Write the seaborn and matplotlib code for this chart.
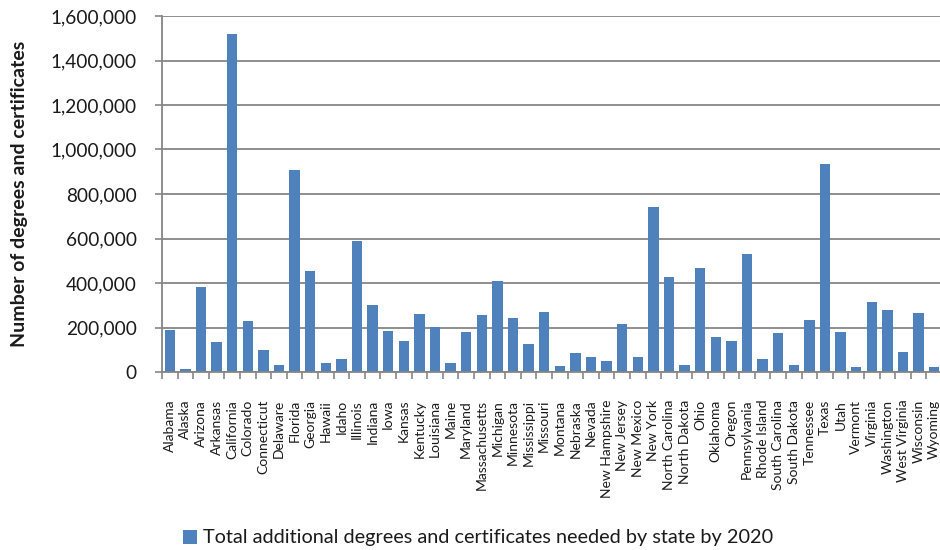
import matplotlib
matplotlib.use("Agg")
import matplotlib.pyplot as plt
from matplotlib.patches import Patch
from matplotlib.ticker import FuncFormatter, FixedLocator
import seaborn as sns
import pandas as pd

states = [
    "Alabama", "Alaska", "Arizona", "Arkansas", "California", "Colorado",
    "Connecticut", "Delaware", "Florida", "Georgia", "Hawaii", "Idaho",
    "Illinois", "Indiana", "Iowa", "Kansas", "Kentucky", "Louisiana",
    "Maine", "Maryland", "Massachusetts", "Michigan", "Minnesota",
    "Mississippi", "Missouri", "Montana", "Nebraska", "Nevada",
    "New Hampshire", "New Jersey", "New Mexico", "New York",
    "North Carolina", "North Dakota", "Ohio", "Oklahoma", "Oregon",
    "Pennsylvania", "Rhode Island", "South Carolina", "South Dakota",
    "Tennessee", "Texas", "Utah", "Vermont", "Virginia", "Washington",
    "West Virginia", "Wisconsin", "Wyoming",
]

degrees_needed = [
    189000, 12000, 383000, 135000, 1518000, 228000,
    99000, 33000, 909000, 452000, 40000, 58000,
    589000, 301000, 186000, 138000, 262000, 202000,
    40000, 181000, 258000, 410000, 241000,
    124000, 270000, 27000, 85000, 67000,
    48000, 216000, 69000, 743000,
    427000, 30000, 466000, 157000, 138000,
    530000, 58000, 177000, 31000,
    234000, 936000, 181000, 24000, 315000, 280000,
    90000, 267000, 24000,
]

series_label = "Total additional degrees and certificates needed by state by 2020"
y_title = "Number of degrees and certificates"
y_ticks = [0, 200000, 400000, 600000, 800000, 1000000, 1200000, 1400000, 1600000]

df = pd.DataFrame({"state": states, "value": degrees_needed})

sns.set_theme(style="white")
plt.rcParams["font.family"] = ["Lato", "DejaVu Sans"]

BAR = "#4F81BD"
GRID = "#868686"
TEXT = "#1a1a1a"

W, H = 940, 550
fig = plt.figure(figsize=(W / 100, H / 100), dpi=100)
left, right, top, bottom = 162, 942, 16, 372
ax = fig.add_axes([left / W, 1 - bottom / H, (right - left) / W, (bottom - top) / H])

sns.barplot(data=df, x="state", y="value", color=BAR, width=0.67,
            saturation=1, linewidth=0, ax=ax)

ax.set_xlim(-0.5, len(states) - 0.5)
ax.set_ylim(0, 1600000)

# y axis
ax.yaxis.set_major_locator(FixedLocator(y_ticks))
ax.yaxis.set_major_formatter(FuncFormatter(lambda v, p: f"{int(v):,}"))
ax.tick_params(axis="y", which="major", left=True, length=5, width=1.2,
               color=GRID, labelsize=13.7, labelcolor=TEXT, pad=13)
ax.grid(axis="y", color=GRID, linewidth=1.3)
ax.set_axisbelow(True)

# x axis: labels centred on bars, tick marks between categories
ax.set_xticks(range(len(states)))
ax.set_xticklabels(states, rotation=90, fontsize=10, color=TEXT)
ax.tick_params(axis="x", which="major", length=0, pad=20)
ax.set_xticks([i - 0.5 for i in range(len(states) + 1)], minor=True)
ax.tick_params(axis="x", which="minor", bottom=True, length=5, width=1.2, color=GRID)

for side in ("top", "right"):
    ax.spines[side].set_visible(False)
for side in ("left", "bottom"):
    ax.spines[side].set_color(GRID)
    ax.spines[side].set_linewidth(1.3)

ax.set_xlabel("")
ax.set_ylabel(y_title, fontsize=14, fontweight="bold", color=TEXT)
ax.yaxis.set_label_coords(-(left - 28) / (right - left), 0.5)

fig.legend(handles=[Patch(facecolor=BAR, edgecolor="none", label=series_label)],
           loc="center", bbox_to_anchor=(478 / W, 1 - 538 / H), frameon=False,
           fontsize=14.3, handlelength=0.7, handleheight=0.7, handletextpad=0.3,
           labelcolor=TEXT)

fig.savefig("out.png", dpi=100)
